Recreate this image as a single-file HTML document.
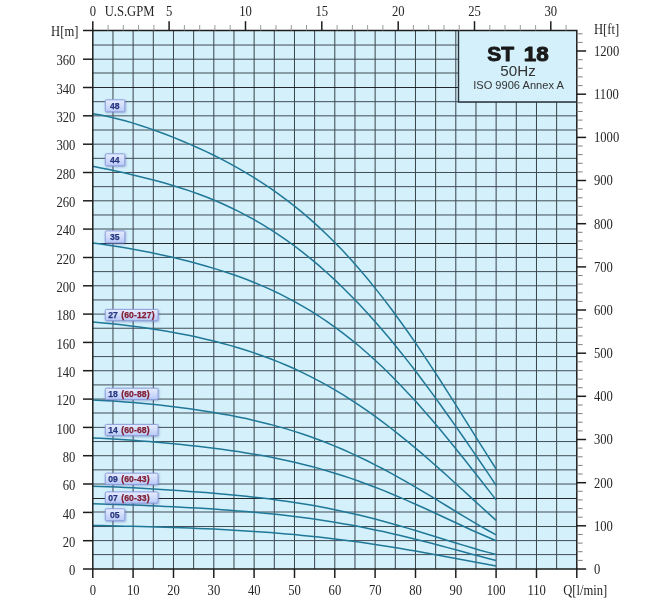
<!DOCTYPE html>
<html><head><meta charset="utf-8"><title>ST 18</title>
<style>html,body{margin:0;padding:0;background:#fff}body{width:668px;height:600px;overflow:hidden}svg{display:block}text{font-family:"Liberation Serif",serif}.ss{font-family:"Liberation Sans",sans-serif}</style></head><body>
<svg width="668" height="600" viewBox="0 0 668 600">
<defs><linearGradient id="lg" x1="0" y1="0" x2="0" y2="1"><stop offset="0" stop-color="#e4ecfe"/><stop offset="0.45" stop-color="#d3defb"/><stop offset="1" stop-color="#b9c9f7"/></linearGradient><filter id="b" x="-5%" y="-5%" width="110%" height="110%"><feGaussianBlur stdDeviation="0.35"/></filter><filter id="t" x="-5%" y="-20%" width="110%" height="140%"><feGaussianBlur stdDeviation="0.28"/></filter><filter id="sh" x="-10%" y="-20%" width="130%" height="160%"><feGaussianBlur stdDeviation="0.8"/></filter></defs>
<rect width="668" height="600" fill="#fff"/>
<rect x="92.8" y="30.5" width="484.0" height="538.5" fill="#d4f0fb"/>
<g stroke="#38424a" stroke-width="1.0">
<line x1="112.97" y1="30.5" x2="112.97" y2="569.0"/>
<line x1="133.13" y1="30.5" x2="133.13" y2="569.0"/>
<line x1="153.30" y1="30.5" x2="153.30" y2="569.0"/>
<line x1="173.47" y1="30.5" x2="173.47" y2="569.0"/>
<line x1="193.63" y1="30.5" x2="193.63" y2="569.0"/>
<line x1="213.80" y1="30.5" x2="213.80" y2="569.0"/>
<line x1="233.97" y1="30.5" x2="233.97" y2="569.0"/>
<line x1="254.13" y1="30.5" x2="254.13" y2="569.0"/>
<line x1="274.30" y1="30.5" x2="274.30" y2="569.0"/>
<line x1="294.47" y1="30.5" x2="294.47" y2="569.0"/>
<line x1="314.63" y1="30.5" x2="314.63" y2="569.0"/>
<line x1="334.80" y1="30.5" x2="334.80" y2="569.0"/>
<line x1="354.97" y1="30.5" x2="354.97" y2="569.0"/>
<line x1="375.13" y1="30.5" x2="375.13" y2="569.0"/>
<line x1="395.30" y1="30.5" x2="395.30" y2="569.0"/>
<line x1="415.47" y1="30.5" x2="415.47" y2="569.0"/>
<line x1="435.63" y1="30.5" x2="435.63" y2="569.0"/>
<line x1="455.80" y1="30.5" x2="455.80" y2="569.0"/>
<line x1="475.97" y1="30.5" x2="475.97" y2="569.0"/>
<line x1="496.13" y1="30.5" x2="496.13" y2="569.0"/>
<line x1="516.30" y1="30.5" x2="516.30" y2="569.0"/>
<line x1="536.47" y1="30.5" x2="536.47" y2="569.0"/>
<line x1="556.63" y1="30.5" x2="556.63" y2="569.0"/>
</g>
<g stroke="#414c55" stroke-width="1.0">
<line x1="92.8" y1="554.60" x2="576.8" y2="554.60"/>
<line x1="92.8" y1="540.60" x2="576.8" y2="540.60"/>
<line x1="92.8" y1="526.52" x2="576.8" y2="526.52"/>
<line x1="92.8" y1="512.00" x2="576.8" y2="512.00"/>
<line x1="92.8" y1="484.03" x2="576.8" y2="484.03"/>
<line x1="92.8" y1="469.87" x2="576.8" y2="469.87"/>
<line x1="92.8" y1="455.71" x2="576.8" y2="455.71"/>
<line x1="92.8" y1="441.55" x2="576.8" y2="441.55"/>
<line x1="92.8" y1="427.39" x2="576.8" y2="427.39"/>
<line x1="92.8" y1="413.00" x2="576.8" y2="413.00"/>
<line x1="92.8" y1="399.07" x2="576.8" y2="399.07"/>
<line x1="92.8" y1="384.91" x2="576.8" y2="384.91"/>
<line x1="92.8" y1="370.74" x2="576.8" y2="370.74"/>
<line x1="92.8" y1="356.58" x2="576.8" y2="356.58"/>
<line x1="92.8" y1="342.42" x2="576.8" y2="342.42"/>
<line x1="92.8" y1="328.26" x2="576.8" y2="328.26"/>
<line x1="92.8" y1="314.10" x2="576.8" y2="314.10"/>
<line x1="92.8" y1="299.94" x2="576.8" y2="299.94"/>
<line x1="92.8" y1="285.78" x2="576.8" y2="285.78"/>
<line x1="92.8" y1="271.62" x2="576.8" y2="271.62"/>
<line x1="92.8" y1="257.46" x2="576.8" y2="257.46"/>
<line x1="92.8" y1="229.00" x2="576.8" y2="229.00"/>
<line x1="92.8" y1="214.97" x2="576.8" y2="214.97"/>
<line x1="92.8" y1="200.81" x2="576.8" y2="200.81"/>
<line x1="92.8" y1="186.65" x2="576.8" y2="186.65"/>
<line x1="92.8" y1="172.49" x2="576.8" y2="172.49"/>
<line x1="92.8" y1="158.33" x2="576.8" y2="158.33"/>
<line x1="92.8" y1="144.17" x2="576.8" y2="144.17"/>
<line x1="92.8" y1="130.00" x2="576.8" y2="130.00"/>
<line x1="92.8" y1="115.84" x2="576.8" y2="115.84"/>
<line x1="92.8" y1="101.68" x2="576.8" y2="101.68"/>
<line x1="92.8" y1="73.00" x2="576.8" y2="73.00"/>
<line x1="92.8" y1="59.20" x2="576.8" y2="59.20"/>
<line x1="92.8" y1="45.04" x2="576.8" y2="45.04"/>
</g>
<g stroke="#171b1f" stroke-width="0.95">
<line x1="92.8" y1="87.50" x2="576.8" y2="87.50"/>
<line x1="92.8" y1="243.50" x2="576.8" y2="243.50"/>
<line x1="92.8" y1="498.50" x2="576.8" y2="498.50"/>
</g>
<g fill="none" stroke="#1f7897" stroke-width="1.5" stroke-linecap="butt" stroke-linejoin="round">
<polyline points="92.8,113.7 100.9,115.1 108.9,116.8 117.0,118.7 125.1,120.8 133.1,123.1 141.2,125.7 149.3,128.4 157.3,131.2 165.4,134.2 173.5,137.4 181.5,140.7 189.6,144.1 197.7,147.7 205.7,151.4 213.8,155.3 221.9,159.4 229.9,163.7 238.0,168.1 246.1,172.8 254.1,177.7 262.2,182.8 270.3,188.2 278.3,193.9 286.4,199.9 294.5,206.1 302.5,212.7 310.6,219.6 318.7,226.9 326.7,234.5 334.8,242.5 342.9,250.8 350.9,259.6 359.0,268.7 367.1,278.2 375.1,288.1 383.2,298.4 391.3,309.0 399.3,320.0 407.4,331.3 415.5,342.9 423.5,354.9 431.6,367.1 439.7,379.5 447.7,392.1 455.8,404.9 463.9,417.8 471.9,430.7 480.0,443.6 488.1,456.4 496.1,469.0"/>
<polyline points="92.8,166.2 100.9,167.9 108.9,169.6 117.0,171.3 125.1,173.1 133.1,175.0 141.2,176.9 149.3,178.9 157.3,181.0 165.4,183.3 173.5,185.7 181.5,188.2 189.6,190.9 197.7,193.7 205.7,196.8 213.8,200.0 221.9,203.5 229.9,207.2 238.0,211.1 246.1,215.3 254.1,219.7 262.2,224.4 270.3,229.4 278.3,234.6 286.4,240.2 294.5,246.0 302.5,252.2 310.6,258.6 318.7,265.4 326.7,272.5 334.8,279.9 342.9,287.7 350.9,295.7 359.0,304.1 367.1,312.8 375.1,321.8 383.2,331.0 391.3,340.6 399.3,350.5 407.4,360.6 415.5,371.0 423.5,381.7 431.6,392.6 439.7,403.7 447.7,415.0 455.8,426.4 463.9,438.0 471.9,449.7 480.0,461.5 488.1,473.4 496.1,485.3"/>
<polyline points="92.8,243.0 100.9,244.0 108.9,245.2 117.0,246.4 125.1,247.8 133.1,249.2 141.2,250.7 149.3,252.3 157.3,254.0 165.4,255.8 173.5,257.6 181.5,259.5 189.6,261.6 197.7,263.7 205.7,266.0 213.8,268.4 221.9,270.9 229.9,273.5 238.0,276.3 246.1,279.3 254.1,282.5 262.2,285.9 270.3,289.4 278.3,293.2 286.4,297.3 294.5,301.6 302.5,306.1 310.6,310.9 318.7,316.0 326.7,321.4 334.8,327.1 342.9,333.1 350.9,339.4 359.0,346.0 367.1,353.0 375.1,360.2 383.2,367.8 391.3,375.7 399.3,383.9 407.4,392.4 415.5,401.1 423.5,410.2 431.6,419.5 439.7,429.0 447.7,438.7 455.8,448.7 463.9,458.8 471.9,469.0 480.0,479.3 488.1,489.6 496.1,499.9"/>
<polyline points="92.8,322.0 100.9,322.7 108.9,323.4 117.0,324.3 125.1,325.2 133.1,326.2 141.2,327.3 149.3,328.5 157.3,329.7 165.4,331.1 173.5,332.5 181.5,334.0 189.6,335.6 197.7,337.3 205.7,339.2 213.8,341.1 221.9,343.2 229.9,345.4 238.0,347.7 246.1,350.2 254.1,352.9 262.2,355.7 270.3,358.7 278.3,361.9 286.4,365.3 294.5,368.8 302.5,372.6 310.6,376.6 318.7,380.8 326.7,385.2 334.8,389.8 342.9,394.7 350.9,399.8 359.0,405.1 367.1,410.6 375.1,416.3 383.2,422.3 391.3,428.5 399.3,434.8 407.4,441.4 415.5,448.1 423.5,454.9 431.6,462.0 439.7,469.1 447.7,476.3 455.8,483.7 463.9,491.0 471.9,498.4 480.0,505.8 488.1,513.1 496.1,520.4"/>
<polyline points="92.8,400.0 100.9,400.4 108.9,400.8 117.0,401.3 125.1,401.9 133.1,402.5 141.2,403.2 149.3,404.0 157.3,404.8 165.4,405.7 173.5,406.7 181.5,407.7 189.6,408.8 197.7,409.9 205.7,411.2 213.8,412.5 221.9,413.9 229.9,415.3 238.0,416.9 246.1,418.6 254.1,420.4 262.2,422.4 270.3,424.4 278.3,426.6 286.4,428.9 294.5,431.4 302.5,434.0 310.6,436.8 318.7,439.7 326.7,442.8 334.8,446.1 342.9,449.5 350.9,453.1 359.0,456.9 367.1,460.8 375.1,464.8 383.2,469.0 391.3,473.4 399.3,477.8 407.4,482.4 415.5,487.1 423.5,491.9 431.6,496.7 439.7,501.6 447.7,506.5 455.8,511.5 463.9,516.3 471.9,521.2 480.0,525.9 488.1,530.5 496.1,534.9"/>
<polyline points="92.8,438.0 100.9,438.3 108.9,438.8 117.0,439.2 125.1,439.8 133.1,440.3 141.2,441.0 149.3,441.6 157.3,442.3 165.4,443.0 173.5,443.8 181.5,444.6 189.6,445.4 197.7,446.3 205.7,447.3 213.8,448.3 221.9,449.3 229.9,450.4 238.0,451.6 246.1,452.9 254.1,454.2 262.2,455.6 270.3,457.1 278.3,458.7 286.4,460.4 294.5,462.3 302.5,464.2 310.6,466.2 318.7,468.4 326.7,470.7 334.8,473.2 342.9,475.7 350.9,478.4 359.0,481.2 367.1,484.2 375.1,487.2 383.2,490.4 391.3,493.7 399.3,497.1 407.4,500.6 415.5,504.2 423.5,507.8 431.6,511.5 439.7,515.3 447.7,519.0 455.8,522.8 463.9,526.5 471.9,530.2 480.0,533.8 488.1,537.3 496.1,540.7"/>
<polyline points="92.8,486.3 100.9,486.5 108.9,486.7 117.0,487.0 125.1,487.4 133.1,487.8 141.2,488.2 149.3,488.7 157.3,489.2 165.4,489.7 173.5,490.2 181.5,490.8 189.6,491.4 197.7,492.0 205.7,492.6 213.8,493.3 221.9,494.0 229.9,494.7 238.0,495.5 246.1,496.3 254.1,497.2 262.2,498.1 270.3,499.1 278.3,500.2 286.4,501.3 294.5,502.5 302.5,503.8 310.6,505.1 318.7,506.6 326.7,508.1 334.8,509.7 342.9,511.4 350.9,513.2 359.0,515.1 367.1,517.1 375.1,519.1 383.2,521.3 391.3,523.5 399.3,525.8 407.4,528.1 415.5,530.5 423.5,533.0 431.6,535.5 439.7,538.0 447.7,540.5 455.8,543.0 463.9,545.4 471.9,547.8 480.0,550.2 488.1,552.4 496.1,554.5"/>
<polyline points="92.8,503.7 100.9,503.9 108.9,504.2 117.0,504.4 125.1,504.7 133.1,505.0 141.2,505.3 149.3,505.7 157.3,506.0 165.4,506.4 173.5,506.8 181.5,507.2 189.6,507.7 197.7,508.1 205.7,508.6 213.8,509.1 221.9,509.7 229.9,510.3 238.0,510.9 246.1,511.5 254.1,512.2 262.2,513.0 270.3,513.8 278.3,514.6 286.4,515.5 294.5,516.5 302.5,517.5 310.6,518.6 318.7,519.8 326.7,521.0 334.8,522.3 342.9,523.7 350.9,525.1 359.0,526.6 367.1,528.2 375.1,529.9 383.2,531.6 391.3,533.4 399.3,535.3 407.4,537.2 415.5,539.2 423.5,541.2 431.6,543.3 439.7,545.4 447.7,547.6 455.8,549.8 463.9,552.0 471.9,554.2 480.0,556.3 488.1,558.5 496.1,560.6"/>
<polyline points="92.8,525.5 100.9,525.6 108.9,525.8 117.0,526.0 125.1,526.2 133.1,526.3 141.2,526.5 149.3,526.8 157.3,527.0 165.4,527.2 173.5,527.5 181.5,527.8 189.6,528.1 197.7,528.4 205.7,528.7 213.8,529.1 221.9,529.5 229.9,529.9 238.0,530.4 246.1,530.9 254.1,531.4 262.2,531.9 270.3,532.5 278.3,533.2 286.4,533.9 294.5,534.6 302.5,535.4 310.6,536.2 318.7,537.0 326.7,538.0 334.8,538.9 342.9,539.9 350.9,541.0 359.0,542.1 367.1,543.2 375.1,544.4 383.2,545.7 391.3,547.0 399.3,548.3 407.4,549.7 415.5,551.1 423.5,552.5 431.6,554.0 439.7,555.4 447.7,556.9 455.8,558.5 463.9,560.0 471.9,561.5 480.0,563.0 488.1,564.5 496.1,566.0"/>
</g>
<rect x="458.5" y="30.5" width="118.3" height="71.5" fill="#d4f0fb"/>
<path d="M458.5,30.5 V102.0 H576.8" fill="none" stroke="#2a3238" stroke-width="1.4" filter="url(#b)"/>
<g class="ss" font-size="20" font-weight="bold" fill="#1a1a1a" stroke="#1a1a1a" stroke-width="0.9" stroke-linejoin="round" filter="url(#t)">
<text class="ss" transform="translate(487.3,60.7) scale(1.05,1)">ST</text>
<text class="ss" transform="translate(548.6,60.7) scale(1.12,1)" text-anchor="end">18</text>
</g>
<text class="ss" x="518" y="75.8" font-size="15.2" text-anchor="middle" fill="#333" filter="url(#t)">50Hz</text>
<text class="ss" x="518.5" y="89.3" font-size="11.1" text-anchor="middle" fill="#333" filter="url(#t)">ISO 9906 Annex A</text>
<g stroke="#1e1e1e" fill="none" filter="url(#b)">
<path d="M92.8,30.5 H576.8 V569.0 H92.8 Z" stroke-width="1.5"/>
<g stroke-width="1.5">
<line x1="83.0" y1="569.0" x2="92.8" y2="569.0"/>
<line x1="83.0" y1="540.7" x2="92.8" y2="540.7"/>
<line x1="83.0" y1="512.4" x2="92.8" y2="512.4"/>
<line x1="83.0" y1="484.0" x2="92.8" y2="484.0"/>
<line x1="83.0" y1="455.7" x2="92.8" y2="455.7"/>
<line x1="83.0" y1="427.4" x2="92.8" y2="427.4"/>
<line x1="83.0" y1="399.1" x2="92.8" y2="399.1"/>
<line x1="83.0" y1="370.7" x2="92.8" y2="370.7"/>
<line x1="83.0" y1="342.4" x2="92.8" y2="342.4"/>
<line x1="83.0" y1="314.1" x2="92.8" y2="314.1"/>
<line x1="83.0" y1="285.8" x2="92.8" y2="285.8"/>
<line x1="83.0" y1="257.5" x2="92.8" y2="257.5"/>
<line x1="83.0" y1="229.1" x2="92.8" y2="229.1"/>
<line x1="83.0" y1="200.8" x2="92.8" y2="200.8"/>
<line x1="83.0" y1="172.5" x2="92.8" y2="172.5"/>
<line x1="83.0" y1="144.2" x2="92.8" y2="144.2"/>
<line x1="83.0" y1="115.8" x2="92.8" y2="115.8"/>
<line x1="83.0" y1="87.5" x2="92.8" y2="87.5"/>
<line x1="83.0" y1="59.2" x2="92.8" y2="59.2"/>
<line x1="83.0" y1="30.5" x2="92.8" y2="30.5"/>
<line x1="92.8" y1="569.0" x2="92.8" y2="578.0"/>
<line x1="133.1" y1="569.0" x2="133.1" y2="578.0"/>
<line x1="173.5" y1="569.0" x2="173.5" y2="578.0"/>
<line x1="213.8" y1="569.0" x2="213.8" y2="578.0"/>
<line x1="254.1" y1="569.0" x2="254.1" y2="578.0"/>
<line x1="294.5" y1="569.0" x2="294.5" y2="578.0"/>
<line x1="334.8" y1="569.0" x2="334.8" y2="578.0"/>
<line x1="375.1" y1="569.0" x2="375.1" y2="578.0"/>
<line x1="415.5" y1="569.0" x2="415.5" y2="578.0"/>
<line x1="455.8" y1="569.0" x2="455.8" y2="578.0"/>
<line x1="496.1" y1="569.0" x2="496.1" y2="578.0"/>
<line x1="536.5" y1="569.0" x2="536.5" y2="578.0"/>
<line x1="576.8" y1="569.0" x2="576.8" y2="578.0"/>
<line x1="576.8" y1="569.0" x2="586.1" y2="569.0"/>
<line x1="576.8" y1="525.8" x2="586.1" y2="525.8"/>
<line x1="576.8" y1="482.7" x2="586.1" y2="482.7"/>
<line x1="576.8" y1="439.5" x2="586.1" y2="439.5"/>
<line x1="576.8" y1="396.3" x2="586.1" y2="396.3"/>
<line x1="576.8" y1="353.2" x2="586.1" y2="353.2"/>
<line x1="576.8" y1="310.0" x2="586.1" y2="310.0"/>
<line x1="576.8" y1="266.9" x2="586.1" y2="266.9"/>
<line x1="576.8" y1="223.7" x2="586.1" y2="223.7"/>
<line x1="576.8" y1="180.5" x2="586.1" y2="180.5"/>
<line x1="576.8" y1="137.4" x2="586.1" y2="137.4"/>
<line x1="576.8" y1="94.2" x2="586.1" y2="94.2"/>
<line x1="576.8" y1="51.0" x2="586.1" y2="51.0"/>
<line x1="92.8" y1="21.2" x2="92.8" y2="30.5"/>
<line x1="169.1" y1="21.2" x2="169.1" y2="30.5"/>
<line x1="245.5" y1="21.2" x2="245.5" y2="30.5"/>
<line x1="321.8" y1="21.2" x2="321.8" y2="30.5"/>
<line x1="398.2" y1="21.2" x2="398.2" y2="30.5"/>
<line x1="474.5" y1="21.2" x2="474.5" y2="30.5"/>
<line x1="550.8" y1="21.2" x2="550.8" y2="30.5"/>
</g>
<g stroke-width="1.0" stroke="#808080">
<line x1="576.8" y1="560.4" x2="582.6" y2="560.4"/>
<line x1="576.8" y1="551.7" x2="582.6" y2="551.7"/>
<line x1="576.8" y1="543.1" x2="582.6" y2="543.1"/>
<line x1="576.8" y1="534.5" x2="582.6" y2="534.5"/>
<line x1="576.8" y1="517.2" x2="582.6" y2="517.2"/>
<line x1="576.8" y1="508.6" x2="582.6" y2="508.6"/>
<line x1="576.8" y1="499.9" x2="582.6" y2="499.9"/>
<line x1="576.8" y1="491.3" x2="582.6" y2="491.3"/>
<line x1="576.8" y1="474.0" x2="582.6" y2="474.0"/>
<line x1="576.8" y1="465.4" x2="582.6" y2="465.4"/>
<line x1="576.8" y1="456.8" x2="582.6" y2="456.8"/>
<line x1="576.8" y1="448.1" x2="582.6" y2="448.1"/>
<line x1="576.8" y1="430.9" x2="582.6" y2="430.9"/>
<line x1="576.8" y1="422.2" x2="582.6" y2="422.2"/>
<line x1="576.8" y1="413.6" x2="582.6" y2="413.6"/>
<line x1="576.8" y1="405.0" x2="582.6" y2="405.0"/>
<line x1="576.8" y1="387.7" x2="582.6" y2="387.7"/>
<line x1="576.8" y1="379.1" x2="582.6" y2="379.1"/>
<line x1="576.8" y1="370.4" x2="582.6" y2="370.4"/>
<line x1="576.8" y1="361.8" x2="582.6" y2="361.8"/>
<line x1="576.8" y1="344.6" x2="582.6" y2="344.6"/>
<line x1="576.8" y1="335.9" x2="582.6" y2="335.9"/>
<line x1="576.8" y1="327.3" x2="582.6" y2="327.3"/>
<line x1="576.8" y1="318.7" x2="582.6" y2="318.7"/>
<line x1="576.8" y1="301.4" x2="582.6" y2="301.4"/>
<line x1="576.8" y1="292.8" x2="582.6" y2="292.8"/>
<line x1="576.8" y1="284.1" x2="582.6" y2="284.1"/>
<line x1="576.8" y1="275.5" x2="582.6" y2="275.5"/>
<line x1="576.8" y1="258.2" x2="582.6" y2="258.2"/>
<line x1="576.8" y1="249.6" x2="582.6" y2="249.6"/>
<line x1="576.8" y1="241.0" x2="582.6" y2="241.0"/>
<line x1="576.8" y1="232.3" x2="582.6" y2="232.3"/>
<line x1="576.8" y1="215.1" x2="582.6" y2="215.1"/>
<line x1="576.8" y1="206.4" x2="582.6" y2="206.4"/>
<line x1="576.8" y1="197.8" x2="582.6" y2="197.8"/>
<line x1="576.8" y1="189.2" x2="582.6" y2="189.2"/>
<line x1="576.8" y1="171.9" x2="582.6" y2="171.9"/>
<line x1="576.8" y1="163.3" x2="582.6" y2="163.3"/>
<line x1="576.8" y1="154.6" x2="582.6" y2="154.6"/>
<line x1="576.8" y1="146.0" x2="582.6" y2="146.0"/>
<line x1="576.8" y1="128.7" x2="582.6" y2="128.7"/>
<line x1="576.8" y1="120.1" x2="582.6" y2="120.1"/>
<line x1="576.8" y1="111.5" x2="582.6" y2="111.5"/>
<line x1="576.8" y1="102.8" x2="582.6" y2="102.8"/>
<line x1="576.8" y1="85.6" x2="582.6" y2="85.6"/>
<line x1="576.8" y1="76.9" x2="582.6" y2="76.9"/>
<line x1="576.8" y1="68.3" x2="582.6" y2="68.3"/>
<line x1="576.8" y1="59.7" x2="582.6" y2="59.7"/>
<line x1="576.8" y1="42.4" x2="582.6" y2="42.4"/>
<line x1="576.8" y1="33.8" x2="582.6" y2="33.8"/>
</g>
<g stroke-width="1.0" stroke="#9a9a9a">
<line x1="108.1" y1="25.0" x2="108.1" y2="30.5"/>
<line x1="123.3" y1="25.0" x2="123.3" y2="30.5"/>
<line x1="138.6" y1="25.0" x2="138.6" y2="30.5"/>
<line x1="153.9" y1="25.0" x2="153.9" y2="30.5"/>
<line x1="184.4" y1="25.0" x2="184.4" y2="30.5"/>
<line x1="199.7" y1="25.0" x2="199.7" y2="30.5"/>
<line x1="214.9" y1="25.0" x2="214.9" y2="30.5"/>
<line x1="230.2" y1="25.0" x2="230.2" y2="30.5"/>
<line x1="260.7" y1="25.0" x2="260.7" y2="30.5"/>
<line x1="276.0" y1="25.0" x2="276.0" y2="30.5"/>
<line x1="291.3" y1="25.0" x2="291.3" y2="30.5"/>
<line x1="306.5" y1="25.0" x2="306.5" y2="30.5"/>
<line x1="337.1" y1="25.0" x2="337.1" y2="30.5"/>
<line x1="352.4" y1="25.0" x2="352.4" y2="30.5"/>
<line x1="367.6" y1="25.0" x2="367.6" y2="30.5"/>
<line x1="382.9" y1="25.0" x2="382.9" y2="30.5"/>
<line x1="413.4" y1="25.0" x2="413.4" y2="30.5"/>
<line x1="428.7" y1="25.0" x2="428.7" y2="30.5"/>
<line x1="444.0" y1="25.0" x2="444.0" y2="30.5"/>
<line x1="459.2" y1="25.0" x2="459.2" y2="30.5"/>
<line x1="489.8" y1="25.0" x2="489.8" y2="30.5"/>
<line x1="505.0" y1="25.0" x2="505.0" y2="30.5"/>
<line x1="520.3" y1="25.0" x2="520.3" y2="30.5"/>
<line x1="535.6" y1="25.0" x2="535.6" y2="30.5"/>
<line x1="566.1" y1="25.0" x2="566.1" y2="30.5"/>
</g>
</g>
<g font-size="14.5" fill="#262626" filter="url(#t)">
<text transform="translate(75.3,575.1) scale(0.87,1)" text-anchor="end">0</text>
<text transform="translate(75.3,546.8) scale(0.87,1)" text-anchor="end">20</text>
<text transform="translate(75.3,518.5) scale(0.87,1)" text-anchor="end">40</text>
<text transform="translate(75.3,490.1) scale(0.87,1)" text-anchor="end">60</text>
<text transform="translate(75.3,461.8) scale(0.87,1)" text-anchor="end">80</text>
<text transform="translate(75.3,433.5) scale(0.87,1)" text-anchor="end">100</text>
<text transform="translate(75.3,405.2) scale(0.87,1)" text-anchor="end">120</text>
<text transform="translate(75.3,376.8) scale(0.87,1)" text-anchor="end">140</text>
<text transform="translate(75.3,348.5) scale(0.87,1)" text-anchor="end">160</text>
<text transform="translate(75.3,320.2) scale(0.87,1)" text-anchor="end">180</text>
<text transform="translate(75.3,291.9) scale(0.87,1)" text-anchor="end">200</text>
<text transform="translate(75.3,263.6) scale(0.87,1)" text-anchor="end">220</text>
<text transform="translate(75.3,235.2) scale(0.87,1)" text-anchor="end">240</text>
<text transform="translate(75.3,206.9) scale(0.87,1)" text-anchor="end">260</text>
<text transform="translate(75.3,178.6) scale(0.87,1)" text-anchor="end">280</text>
<text transform="translate(75.3,150.3) scale(0.87,1)" text-anchor="end">300</text>
<text transform="translate(75.3,121.9) scale(0.87,1)" text-anchor="end">320</text>
<text transform="translate(75.3,93.6) scale(0.87,1)" text-anchor="end">340</text>
<text transform="translate(75.3,65.3) scale(0.87,1)" text-anchor="end">360</text>
<text transform="translate(78.4,36.0) scale(0.87,1)" text-anchor="end">H[m]</text>
<text transform="translate(92.9,594.5) scale(0.87,1)" text-anchor="middle">0</text>
<text transform="translate(133.2,594.5) scale(0.87,1)" text-anchor="middle">10</text>
<text transform="translate(173.6,594.5) scale(0.87,1)" text-anchor="middle">20</text>
<text transform="translate(213.9,594.5) scale(0.87,1)" text-anchor="middle">30</text>
<text transform="translate(254.2,594.5) scale(0.87,1)" text-anchor="middle">40</text>
<text transform="translate(294.6,594.5) scale(0.87,1)" text-anchor="middle">50</text>
<text transform="translate(334.9,594.5) scale(0.87,1)" text-anchor="middle">60</text>
<text transform="translate(375.2,594.5) scale(0.87,1)" text-anchor="middle">70</text>
<text transform="translate(415.6,594.5) scale(0.87,1)" text-anchor="middle">80</text>
<text transform="translate(455.9,594.5) scale(0.87,1)" text-anchor="middle">90</text>
<text transform="translate(496.2,594.5) scale(0.87,1)" text-anchor="middle">100</text>
<text transform="translate(536.6,594.5) scale(0.87,1)" text-anchor="middle">110</text>
<text transform="translate(585.2,594.5) scale(0.87,1)" text-anchor="middle">Q[l/min]</text>
<text transform="translate(594.0,573.9) scale(0.87,1)" text-anchor="start">0</text>
<text transform="translate(594.0,530.7) scale(0.87,1)" text-anchor="start">100</text>
<text transform="translate(594.0,487.6) scale(0.87,1)" text-anchor="start">200</text>
<text transform="translate(594.0,444.4) scale(0.87,1)" text-anchor="start">300</text>
<text transform="translate(594.0,401.2) scale(0.87,1)" text-anchor="start">400</text>
<text transform="translate(594.0,358.1) scale(0.87,1)" text-anchor="start">500</text>
<text transform="translate(594.0,314.9) scale(0.87,1)" text-anchor="start">600</text>
<text transform="translate(594.0,271.8) scale(0.87,1)" text-anchor="start">700</text>
<text transform="translate(594.0,228.6) scale(0.87,1)" text-anchor="start">800</text>
<text transform="translate(594.0,185.4) scale(0.87,1)" text-anchor="start">900</text>
<text transform="translate(594.0,142.3) scale(0.87,1)" text-anchor="start">1000</text>
<text transform="translate(594.0,99.1) scale(0.87,1)" text-anchor="start">1100</text>
<text transform="translate(594.0,55.9) scale(0.87,1)" text-anchor="start">1200</text>
<text transform="translate(594.0,34.2) scale(0.87,1)" text-anchor="start">H[ft]</text>
<text transform="translate(92.8,15.8) scale(0.87,1)" text-anchor="middle">0</text>
<text transform="translate(169.1,15.8) scale(0.87,1)" text-anchor="middle">5</text>
<text transform="translate(245.5,15.8) scale(0.87,1)" text-anchor="middle">10</text>
<text transform="translate(321.8,15.8) scale(0.87,1)" text-anchor="middle">15</text>
<text transform="translate(398.2,15.8) scale(0.87,1)" text-anchor="middle">20</text>
<text transform="translate(474.5,15.8) scale(0.87,1)" text-anchor="middle">25</text>
<text transform="translate(550.8,15.8) scale(0.87,1)" text-anchor="middle">30</text>
<text transform="translate(129.5,15.8) scale(0.87,1)" text-anchor="middle">U.S.GPM</text>
</g>
<rect x="105.6" y="100.3" width="20.3" height="12.8" rx="1.2" fill="#4c5ca8" fill-opacity="0.45" filter="url(#sh)"/>
<rect x="105.3" y="99.8" width="19.5" height="12.0" rx="1.2" fill="url(#lg)" stroke="#8b9ddb" stroke-width="0.95" filter="url(#b)"/>
<text class="ss" x="114.8" y="108.9" font-size="8.6" font-weight="bold" fill="#27367e" text-anchor="middle" letter-spacing="0.12" stroke="#27367e" stroke-width="0.25">48</text>
<rect x="105.6" y="154.3" width="20.3" height="12.8" rx="1.2" fill="#4c5ca8" fill-opacity="0.45" filter="url(#sh)"/>
<rect x="105.3" y="153.8" width="19.5" height="12.0" rx="1.2" fill="url(#lg)" stroke="#8b9ddb" stroke-width="0.95" filter="url(#b)"/>
<text class="ss" x="114.8" y="162.9" font-size="8.6" font-weight="bold" fill="#27367e" text-anchor="middle" letter-spacing="0.12" stroke="#27367e" stroke-width="0.25">44</text>
<rect x="105.6" y="231.4" width="20.3" height="12.8" rx="1.2" fill="#4c5ca8" fill-opacity="0.45" filter="url(#sh)"/>
<rect x="105.3" y="230.9" width="19.5" height="12.0" rx="1.2" fill="url(#lg)" stroke="#8b9ddb" stroke-width="0.95" filter="url(#b)"/>
<text class="ss" x="114.8" y="240.0" font-size="8.6" font-weight="bold" fill="#27367e" text-anchor="middle" letter-spacing="0.12" stroke="#27367e" stroke-width="0.25">35</text>
<rect x="105.6" y="309.9" width="53.5" height="12.0" rx="1.2" fill="#4c5ca8" fill-opacity="0.45" filter="url(#sh)"/>
<rect x="105.3" y="309.4" width="52.7" height="11.2" rx="1.2" fill="url(#lg)" stroke="#8b9ddb" stroke-width="0.95" filter="url(#b)"/>
<text class="ss" x="108.2" y="318.1" font-size="8.6" font-weight="bold" fill="#27367e" letter-spacing="0.12" stroke="#27367e" stroke-width="0.25">27<tspan stroke="#821d31" dx="3.2" fill="#821d31">(60-127)</tspan></text>
<rect x="105.6" y="388.7" width="53.5" height="12.0" rx="1.2" fill="#4c5ca8" fill-opacity="0.45" filter="url(#sh)"/>
<rect x="105.3" y="388.2" width="52.7" height="11.2" rx="1.2" fill="url(#lg)" stroke="#8b9ddb" stroke-width="0.95" filter="url(#b)"/>
<text class="ss" x="108.2" y="396.9" font-size="8.6" font-weight="bold" fill="#27367e" letter-spacing="0.12" stroke="#27367e" stroke-width="0.25">18<tspan stroke="#821d31" dx="3.2" fill="#821d31">(60-88)</tspan></text>
<rect x="105.6" y="424.9" width="53.5" height="12.0" rx="1.2" fill="#4c5ca8" fill-opacity="0.45" filter="url(#sh)"/>
<rect x="105.3" y="424.4" width="52.7" height="11.2" rx="1.2" fill="url(#lg)" stroke="#8b9ddb" stroke-width="0.95" filter="url(#b)"/>
<text class="ss" x="108.2" y="433.1" font-size="8.6" font-weight="bold" fill="#27367e" letter-spacing="0.12" stroke="#27367e" stroke-width="0.25">14<tspan stroke="#821d31" dx="3.2" fill="#821d31">(60-68)</tspan></text>
<rect x="105.6" y="473.7" width="53.5" height="12.0" rx="1.2" fill="#4c5ca8" fill-opacity="0.45" filter="url(#sh)"/>
<rect x="105.3" y="473.2" width="52.7" height="11.2" rx="1.2" fill="url(#lg)" stroke="#8b9ddb" stroke-width="0.95" filter="url(#b)"/>
<text class="ss" x="108.2" y="481.9" font-size="8.6" font-weight="bold" fill="#27367e" letter-spacing="0.12" stroke="#27367e" stroke-width="0.25">09<tspan stroke="#821d31" dx="3.2" fill="#821d31">(60-43)</tspan></text>
<rect x="105.6" y="492.4" width="53.5" height="12.0" rx="1.2" fill="#4c5ca8" fill-opacity="0.45" filter="url(#sh)"/>
<rect x="105.3" y="491.9" width="52.7" height="11.2" rx="1.2" fill="url(#lg)" stroke="#8b9ddb" stroke-width="0.95" filter="url(#b)"/>
<text class="ss" x="108.2" y="500.6" font-size="8.6" font-weight="bold" fill="#27367e" letter-spacing="0.12" stroke="#27367e" stroke-width="0.25">07<tspan stroke="#821d31" dx="3.2" fill="#821d31">(60-33)</tspan></text>
<rect x="105.6" y="509.2" width="20.3" height="12.8" rx="1.2" fill="#4c5ca8" fill-opacity="0.45" filter="url(#sh)"/>
<rect x="105.3" y="508.7" width="19.5" height="12.0" rx="1.2" fill="url(#lg)" stroke="#8b9ddb" stroke-width="0.95" filter="url(#b)"/>
<text class="ss" x="114.8" y="517.8" font-size="8.6" font-weight="bold" fill="#27367e" text-anchor="middle" letter-spacing="0.12" stroke="#27367e" stroke-width="0.25">05</text>
</svg></body></html>
